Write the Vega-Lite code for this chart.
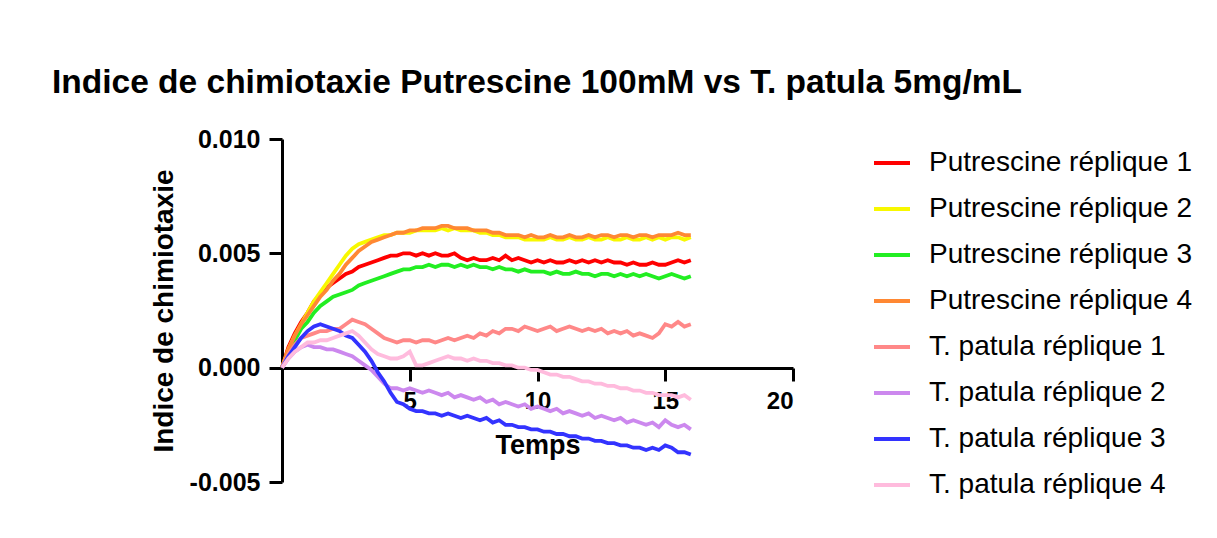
{
 "$schema": "https://vega.github.io/schema/vega-lite/v6.json",
 "autosize": {"type": "none"},
 "padding": {"left": 282, "top": 139, "right": 424, "bottom": 56},
 "width": 511,
 "height": 343,
 "background": "white",
 "config": {"font": "Liberation Sans", "view": {"stroke": null}},
 "title": {"text": "Indice de chimiotaxie Putrescine 100mM vs T. patula 5mg/mL", "anchor": "start", "frame": "group", "fontSize": 33.5, "fontWeight": "bold", "color": "black", "dx": -230, "offset": 27, "font": "Liberation Sans"},
 "datasets": {
  "names": [
   {"k": "a", "s": "Putrescine réplique 1"},
   {"k": "b", "s": "Putrescine réplique 2"},
   {"k": "c", "s": "Putrescine réplique 3"},
   {"k": "d", "s": "Putrescine réplique 4"},
   {"k": "e", "s": "T. patula réplique 1"},
   {"k": "f", "s": "T. patula réplique 2"},
   {"k": "g", "s": "T. patula réplique 3"},
   {"k": "h", "s": "T. patula réplique 4"}
  ]
 },
 "data": {"values": [
  {"t": 0, "a": 0, "b": 0, "c": 0, "d": 0, "e": 0, "f": 0, "g": 0, "h": 0},
  {"t": 0.25, "a": 0.0009, "b": 0.0008, "c": 0.0007, "d": 0.0008, "e": 0.0006, "f": 0.0004, "g": 0.0005, "h": 0.0004},
  {"t": 0.5, "a": 0.0015, "b": 0.0014, "c": 0.0012, "d": 0.0014, "e": 0.0010, "f": 0.0007, "g": 0.0009, "h": 0.0007},
  {"t": 0.75, "a": 0.0020, "b": 0.0019, "c": 0.0017, "d": 0.0019, "e": 0.0013, "f": 0.0009, "g": 0.0013, "h": 0.0009},
  {"t": 1, "a": 0.0024, "b": 0.0024, "c": 0.0020, "d": 0.0023, "e": 0.0014, "f": 0.0010, "g": 0.0016, "h": 0.0011},
  {"t": 1.25, "a": 0.0029, "b": 0.0029, "c": 0.0024, "d": 0.0027, "e": 0.0015, "f": 0.0009, "g": 0.0018, "h": 0.0011},
  {"t": 1.5, "a": 0.0032, "b": 0.0033, "c": 0.0027, "d": 0.0031, "e": 0.0016, "f": 0.0009, "g": 0.0019, "h": 0.0012},
  {"t": 1.75, "a": 0.0035, "b": 0.0037, "c": 0.0029, "d": 0.0034, "e": 0.0016, "f": 0.0008, "g": 0.0018, "h": 0.0012},
  {"t": 2, "a": 0.0037, "b": 0.0041, "c": 0.0031, "d": 0.0038, "e": 0.0017, "f": 0.0008, "g": 0.0017, "h": 0.0013},
  {"t": 2.25, "a": 0.0039, "b": 0.0045, "c": 0.0032, "d": 0.0041, "e": 0.0017, "f": 0.0007, "g": 0.0016, "h": 0.0014},
  {"t": 2.5, "a": 0.0041, "b": 0.0049, "c": 0.0033, "d": 0.0045, "e": 0.0019, "f": 0.0006, "g": 0.0014, "h": 0.0015},
  {"t": 2.75, "a": 0.0042, "b": 0.0052, "c": 0.0034, "d": 0.0048, "e": 0.0021, "f": 0.0005, "g": 0.0013, "h": 0.0016},
  {"t": 3, "a": 0.0044, "b": 0.0054, "c": 0.0036, "d": 0.0051, "e": 0.0020, "f": 0.0003, "g": 0.0010, "h": 0.0014},
  {"t": 3.25, "a": 0.0045, "b": 0.0055, "c": 0.0037, "d": 0.0053, "e": 0.0019, "f": 0.0001, "g": 0.0007, "h": 0.0011},
  {"t": 3.5, "a": 0.0046, "b": 0.0056, "c": 0.0038, "d": 0.0055, "e": 0.0017, "f": -0.0001, "g": 0.0003, "h": 0.0008},
  {"t": 3.75, "a": 0.0047, "b": 0.0057, "c": 0.0039, "d": 0.0056, "e": 0.0015, "f": -0.0004, "g": -0.0002, "h": 0.0006},
  {"t": 4, "a": 0.0048, "b": 0.0058, "c": 0.0040, "d": 0.0057, "e": 0.0013, "f": -0.0007, "g": -0.0006, "h": 0.0005},
  {"t": 4.25, "a": 0.0049, "b": 0.0058, "c": 0.0041, "d": 0.0058, "e": 0.0012, "f": -0.0009, "g": -0.0011, "h": 0.0004},
  {"t": 4.5, "a": 0.0049, "b": 0.0059, "c": 0.0042, "d": 0.0059, "e": 0.0011, "f": -0.0009, "g": -0.0015, "h": 0.0004},
  {"t": 4.75, "a": 0.0050, "b": 0.0059, "c": 0.0043, "d": 0.0059, "e": 0.0012, "f": -0.0010, "g": -0.0016, "h": 0.0005},
  {"t": 5, "a": 0.0050, "b": 0.0059, "c": 0.0043, "d": 0.0060, "e": 0.0012, "f": -0.0009, "g": -0.0018, "h": 0.0007},
  {"t": 5.25, "a": 0.0049, "b": 0.0060, "c": 0.0044, "d": 0.0060, "e": 0.0011, "f": -0.0010, "g": -0.0019, "h": 0.0001},
  {"t": 5.5, "a": 0.0050, "b": 0.0060, "c": 0.0044, "d": 0.0061, "e": 0.0012, "f": -0.0011, "g": -0.0019, "h": 0.0001},
  {"t": 5.75, "a": 0.0049, "b": 0.0060, "c": 0.0045, "d": 0.0061, "e": 0.0012, "f": -0.0010, "g": -0.0020, "h": 0.0002},
  {"t": 6, "a": 0.0050, "b": 0.0060, "c": 0.0044, "d": 0.0061, "e": 0.0011, "f": -0.0011, "g": -0.0020, "h": 0.0003},
  {"t": 6.25, "a": 0.0049, "b": 0.0061, "c": 0.0045, "d": 0.0062, "e": 0.0012, "f": -0.0012, "g": -0.0021, "h": 0.0004},
  {"t": 6.5, "a": 0.0049, "b": 0.0060, "c": 0.0045, "d": 0.0062, "e": 0.0013, "f": -0.0011, "g": -0.0020, "h": 0.0005},
  {"t": 6.75, "a": 0.0050, "b": 0.0061, "c": 0.0044, "d": 0.0061, "e": 0.0012, "f": -0.0013, "g": -0.0021, "h": 0.0004},
  {"t": 7, "a": 0.0048, "b": 0.0060, "c": 0.0045, "d": 0.0061, "e": 0.0013, "f": -0.0012, "g": -0.0022, "h": 0.0004},
  {"t": 7.25, "a": 0.0047, "b": 0.0060, "c": 0.0044, "d": 0.0061, "e": 0.0014, "f": -0.0013, "g": -0.0021, "h": 0.0003},
  {"t": 7.5, "a": 0.0048, "b": 0.0060, "c": 0.0045, "d": 0.0060, "e": 0.0013, "f": -0.0014, "g": -0.0022, "h": 0.0004},
  {"t": 7.75, "a": 0.0047, "b": 0.0059, "c": 0.0044, "d": 0.0060, "e": 0.0015, "f": -0.0013, "g": -0.0023, "h": 0.0003},
  {"t": 8, "a": 0.0047, "b": 0.0059, "c": 0.0044, "d": 0.0060, "e": 0.0014, "f": -0.0015, "g": -0.0022, "h": 0.0003},
  {"t": 8.25, "a": 0.0048, "b": 0.0058, "c": 0.0043, "d": 0.0059, "e": 0.0016, "f": -0.0014, "g": -0.0024, "h": 0.0002},
  {"t": 8.5, "a": 0.0047, "b": 0.0058, "c": 0.0044, "d": 0.0059, "e": 0.0015, "f": -0.0016, "g": -0.0023, "h": 0.0002},
  {"t": 8.75, "a": 0.0049, "b": 0.0057, "c": 0.0043, "d": 0.0058, "e": 0.0017, "f": -0.0015, "g": -0.0025, "h": 0.0001},
  {"t": 9, "a": 0.0047, "b": 0.0057, "c": 0.0043, "d": 0.0058, "e": 0.0017, "f": -0.0016, "g": -0.0025, "h": 0.0001},
  {"t": 9.25, "a": 0.0048, "b": 0.0057, "c": 0.0042, "d": 0.0058, "e": 0.0016, "f": -0.0017, "g": -0.0026, "h": 0},
  {"t": 9.5, "a": 0.0047, "b": 0.0056, "c": 0.0043, "d": 0.0057, "e": 0.0018, "f": -0.0016, "g": -0.0026, "h": 0},
  {"t": 9.75, "a": 0.0046, "b": 0.0056, "c": 0.0042, "d": 0.0058, "e": 0.0017, "f": -0.0018, "g": -0.0027, "h": -0.0001},
  {"t": 10, "a": 0.0047, "b": 0.0056, "c": 0.0042, "d": 0.0057, "e": 0.0016, "f": -0.0017, "g": -0.0027, "h": -0.0001},
  {"t": 10.25, "a": 0.0046, "b": 0.0056, "c": 0.0042, "d": 0.0057, "e": 0.0017, "f": -0.0018, "g": -0.0028, "h": -0.0002},
  {"t": 10.5, "a": 0.0047, "b": 0.0057, "c": 0.0041, "d": 0.0058, "e": 0.0018, "f": -0.0019, "g": -0.0028, "h": -0.0003},
  {"t": 10.75, "a": 0.0046, "b": 0.0056, "c": 0.0042, "d": 0.0057, "e": 0.0016, "f": -0.0018, "g": -0.0029, "h": -0.0003},
  {"t": 11, "a": 0.0046, "b": 0.0056, "c": 0.0041, "d": 0.0057, "e": 0.0017, "f": -0.0020, "g": -0.0029, "h": -0.0004},
  {"t": 11.25, "a": 0.0047, "b": 0.0057, "c": 0.0041, "d": 0.0058, "e": 0.0018, "f": -0.0019, "g": -0.0030, "h": -0.0004},
  {"t": 11.5, "a": 0.0046, "b": 0.0056, "c": 0.0042, "d": 0.0057, "e": 0.0017, "f": -0.0020, "g": -0.0030, "h": -0.0005},
  {"t": 11.75, "a": 0.0047, "b": 0.0056, "c": 0.0041, "d": 0.0057, "e": 0.0016, "f": -0.0021, "g": -0.0031, "h": -0.0006},
  {"t": 12, "a": 0.0046, "b": 0.0057, "c": 0.0041, "d": 0.0058, "e": 0.0017, "f": -0.0020, "g": -0.0031, "h": -0.0006},
  {"t": 12.25, "a": 0.0047, "b": 0.0056, "c": 0.0040, "d": 0.0057, "e": 0.0016, "f": -0.0022, "g": -0.0032, "h": -0.0007},
  {"t": 12.5, "a": 0.0046, "b": 0.0056, "c": 0.0041, "d": 0.0058, "e": 0.0017, "f": -0.0021, "g": -0.0032, "h": -0.0007},
  {"t": 12.75, "a": 0.0047, "b": 0.0057, "c": 0.0041, "d": 0.0058, "e": 0.0015, "f": -0.0022, "g": -0.0033, "h": -0.0008},
  {"t": 13, "a": 0.0046, "b": 0.0056, "c": 0.0040, "d": 0.0057, "e": 0.0016, "f": -0.0023, "g": -0.0033, "h": -0.0008},
  {"t": 13.25, "a": 0.0046, "b": 0.0056, "c": 0.0041, "d": 0.0058, "e": 0.0015, "f": -0.0022, "g": -0.0034, "h": -0.0009},
  {"t": 13.5, "a": 0.0045, "b": 0.0057, "c": 0.0040, "d": 0.0058, "e": 0.0016, "f": -0.0024, "g": -0.0034, "h": -0.0009},
  {"t": 13.75, "a": 0.0046, "b": 0.0056, "c": 0.0041, "d": 0.0057, "e": 0.0014, "f": -0.0023, "g": -0.0035, "h": -0.0010},
  {"t": 14, "a": 0.0045, "b": 0.0056, "c": 0.0040, "d": 0.0058, "e": 0.0015, "f": -0.0024, "g": -0.0035, "h": -0.0010},
  {"t": 14.25, "a": 0.0045, "b": 0.0057, "c": 0.0041, "d": 0.0058, "e": 0.0014, "f": -0.0025, "g": -0.0036, "h": -0.0011},
  {"t": 14.5, "a": 0.0046, "b": 0.0056, "c": 0.0040, "d": 0.0057, "e": 0.0013, "f": -0.0024, "g": -0.0035, "h": -0.0011},
  {"t": 14.75, "a": 0.0045, "b": 0.0057, "c": 0.0039, "d": 0.0058, "e": 0.0015, "f": -0.0026, "g": -0.0036, "h": -0.0012},
  {"t": 15, "a": 0.0045, "b": 0.0056, "c": 0.0040, "d": 0.0058, "e": 0.0019, "f": -0.0023, "g": -0.0034, "h": -0.0012},
  {"t": 15.25, "a": 0.0046, "b": 0.0057, "c": 0.0041, "d": 0.0058, "e": 0.0018, "f": -0.0025, "g": -0.0035, "h": -0.0012},
  {"t": 15.5, "a": 0.0047, "b": 0.0057, "c": 0.0040, "d": 0.0059, "e": 0.0020, "f": -0.0026, "g": -0.0037, "h": -0.0013},
  {"t": 15.75, "a": 0.0046, "b": 0.0056, "c": 0.0039, "d": 0.0058, "e": 0.0018, "f": -0.0025, "g": -0.0037, "h": -0.0012},
  {"t": 16, "a": 0.0047, "b": 0.0057, "c": 0.0040, "d": 0.0058, "e": 0.0019, "f": -0.0027, "g": -0.0038, "h": -0.0014}
 ]},
 "transform": [
  {"fold": ["a", "b", "c", "d", "e", "f", "g", "h"], "as": ["k", "v"]},
  {"lookup": "k", "from": {"data": {"name": "names"}, "key": "k", "fields": ["s"]}}
 ],
 "mark": {"type": "line", "interpolate": "linear"},
 "encoding": {
  "x": {
   "field": "t", "type": "quantitative",
   "scale": {"domain": [0, 20], "nice": false},
   "axis": {"values": [5, 10, 15, 20], "offset": -114, "grid": false, "domainColor": "black", "domainWidth": 3, "tickColor": "black", "tickWidth": 3, "tickSize": 13, "labelFontSize": 24, "labelFontWeight": "bold", "labelColor": "black", "labelPadding": 8, "title": "Temps", "titleFontSize": 27, "titleFontWeight": "bold", "titleColor": "black", "titlePadding": 19}
  },
  "y": {
   "field": "v", "type": "quantitative",
   "scale": {"domain": [-0.005, 0.01], "nice": false, "zero": false},
   "axis": {"values": [-0.005, 0, 0.005, 0.01], "format": ".3f", "labelExpr": "replace(datum.label, '−', '-')", "grid": false, "domainColor": "black", "domainWidth": 3, "tickColor": "black", "tickWidth": 3, "tickSize": 13, "labelFontSize": 25, "labelFontWeight": "bold", "labelColor": "black", "labelPadding": 9, "title": "Indice de chimiotaxie", "titleFontSize": 28, "titleFontWeight": "bold", "titleColor": "black", "titlePadding": 11}
  },
  "color": {
   "field": "s", "type": "nominal",
   "scale": {
    "domain": ["Putrescine réplique 1", "Putrescine réplique 2", "Putrescine réplique 3", "Putrescine réplique 4", "T. patula réplique 1", "T. patula réplique 2", "T. patula réplique 3", "T. patula réplique 4"],
    "range": ["#ff0000", "#f8f800", "#22ee22", "#ff8833", "#ff8888", "#cc88ee", "#3333ff", "#ffbbdd"]
   },
   "legend": {"orient": "none", "legendX": 590, "legendY": 4, "title": null, "symbolType": "stroke", "symbolSize": 1296, "symbolStrokeWidth": 1.6, "labelFontSize": 28, "labelColor": "black", "labelFont": "Liberation Sans", "labelLimit": 400, "rowPadding": 12, "labelOffset": 17, "encode": {"symbols": {"update": {"strokeWidth": {"value": 1.8}}}}}
  },
  "strokeWidth": {
   "field": "s", "type": "ordinal",
   "scale": {
    "domain": ["Putrescine réplique 1", "Putrescine réplique 2", "Putrescine réplique 3", "Putrescine réplique 4", "T. patula réplique 1", "T. patula réplique 2", "T. patula réplique 3", "T. patula réplique 4"],
    "range": [3.8, 3.8, 3.8, 3.8, 2.8, 1.3, 1.3, 1.3]
   },
   "legend": null
  }
 }
}
